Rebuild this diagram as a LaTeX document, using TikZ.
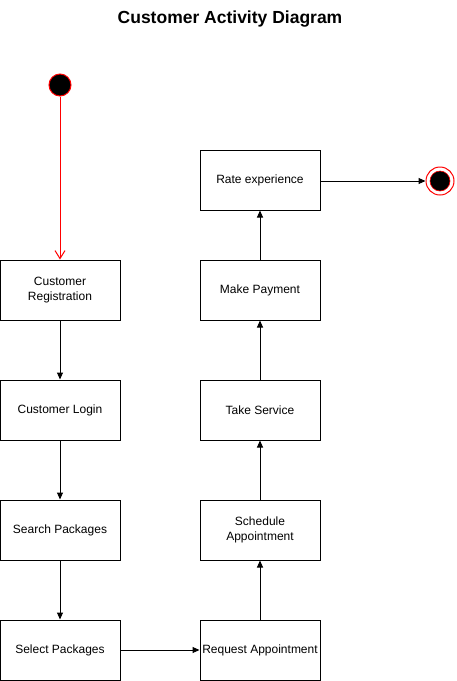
\documentclass[tikz,border=0pt]{standalone}
\usepackage{fontspec}
\setmainfont{Liberation Sans}
\usetikzlibrary{positioning, arrows, arrows.meta}

\begin{document}
\begin{tikzpicture}[x=1pt, y=-1pt,
  activity/.style={draw, line width=1pt, minimum width=120pt, minimum height=60pt,
    align=center, inner sep=0pt, font=\fontsize{12}{15}\selectfont},
  flow/.style={-{Triangle[length=7pt, width=6pt]}, line width=1pt}]
\useasboundingbox (0,0) rectangle (456,681);

\node[font=\fontsize{17.5}{20}\bfseries] (title) at (230,19) {Customer Activity Diagram};

\node[circle, draw=red, fill=black, line width=1pt, minimum size=22pt, inner sep=0pt] (start) at (60,85) {};
\node[circle, draw=red, line width=1pt, minimum size=28pt, inner sep=0pt] (end) at (440,181) {};
\node[circle, draw=red, fill=black, line width=0.6pt, minimum size=20pt, inner sep=0pt] (endin) at (440,181) {};

\node[activity] (reg) at (60,290) {Customer\\Registration};
\node[activity] (login) at (60,410) {Customer Login};
\node[activity] (search) at (60,530) {Search Packages};
\node[activity] (select) at (60,650) {Select Packages};
\node[activity] (request) at (260,650) {Request Appointment};
\node[activity] (schedule) at (260,530) {Schedule\\Appointment};
\node[activity] (service) at (260,410) {Take Service};
\node[activity] (payment) at (260,290) {Make Payment};
\node[activity] (rate) at (260,180) {Rate experience};

\draw[-{Straight Barb[length=8pt, width=10pt]}, red, line width=1pt] (start)--(reg);
\draw[flow] (reg)--(login);
\draw[flow] (login)--(search);
\draw[flow] (search)--(select);
\draw[flow] (select)--(request);
\draw[flow] (request)--(schedule);
\draw[flow] (schedule)--(service);
\draw[flow] (service)--(payment);
\draw[flow] (payment)--(rate);
\draw[flow] (rate.east|-end)--(end);
\end{tikzpicture}
\end{document}
